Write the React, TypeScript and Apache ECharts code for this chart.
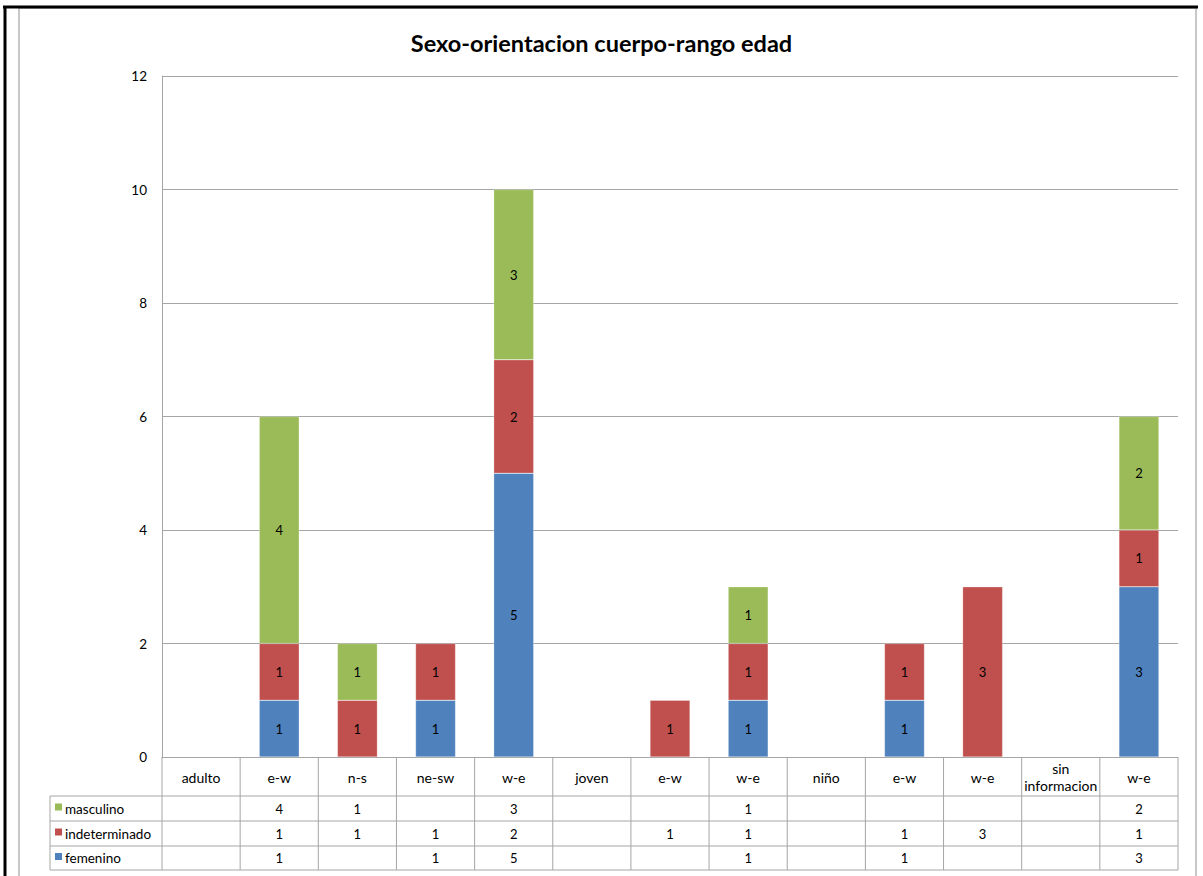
import React, { useEffect, useRef } from "react";
import * as echarts from "echarts";

const title = "Sexo-orientacion cuerpo-rango edad";
const categories = [
  "adulto", "e-w", "n-s", "ne-sw", "w-e", "joven", "e-w", "w-e", "niño", "e-w", "w-e", "sin\ninformacion", "w-e",
];
const masculino = [null, 4, 1, null, 3, null, null, 1, null, null, null, null, 2];
const indeterminado = [null, 1, 1, 1, 2, null, 1, 1, null, 1, 3, null, 1];
const femenino = [null, 1, null, 1, 5, null, null, 1, null, 1, null, null, 3];
const yTicks = { min: 0, max: 12, interval: 2 };

const COLORS = { femenino: "#4F81BD", indeterminado: "#C0504D", masculino: "#9BBB59" };
const FONT = "Lato, 'Open Sans', sans-serif";

export default function App() {
  const ref = useRef<HTMLDivElement>(null);
  useEffect(() => {
    if (!ref.current) return;
    const chart = echarts.init(ref.current, null, { renderer: "svg" });

    const gl = 162, gt = 76, gw = 1016, gh = 681;
    const gb = gt + gh;
    const n = categories.length;
    const colW = gw / n;
    const rowTops = [796, 821, 846, 870];
    const lineColor = "#a6a6a6";

    const rows = [
      { name: "masculino", data: masculino, color: COLORS.masculino },
      { name: "indeterminado", data: indeterminado, color: COLORS.indeterminado },
      { name: "femenino", data: femenino, color: COLORS.femenino },
    ];

    const graphics: any[] = [];
    graphics.push({ type: "rect", shape: { x: 19, y: 8, width: 1177, height: 880 }, style: { fill: "none", stroke: "#b5b5b5", lineWidth: 1.5 }, z: 1 });
    graphics.push({ type: "line", shape: { x1: 3, y1: 7, x2: 1198, y2: 7 }, style: { stroke: "#000", lineWidth: 3 }, z: 2 });
    graphics.push({ type: "line", shape: { x1: 5, y1: 6, x2: 5, y2: 880 }, style: { stroke: "#000", lineWidth: 3 }, z: 2 });

    rowTops.forEach((y) => {
      graphics.push({ type: "line", shape: { x1: 50, y1: y, x2: gl + gw, y2: y }, style: { stroke: lineColor, lineWidth: 1 }, z: 5 });
    });
    for (let i = 0; i <= n; i++) {
      const x = gl + i * colW;
      graphics.push({ type: "line", shape: { x1: x, y1: gb, x2: x, y2: rowTops[3] }, style: { stroke: lineColor, lineWidth: 1 }, z: 5 });
    }
    graphics.push({ type: "line", shape: { x1: 50, y1: rowTops[0], x2: 50, y2: rowTops[3] }, style: { stroke: lineColor, lineWidth: 1 }, z: 5 });

    rows.forEach((r, ri) => {
      const cy = (rowTops[ri] + rowTops[ri + 1]) / 2;
      graphics.push({ type: "rect", shape: { x: 55, y: cy - 5, width: 7, height: 7 }, style: { fill: r.color }, z: 6 });
      graphics.push({ type: "text", x: 65, y: cy, style: { text: r.name, font: `13.5px ${FONT}`, fill: "#000", textAlign: "left", textVerticalAlign: "middle" }, z: 6 });
      r.data.forEach((v, i) => {
        if (v == null) return;
        graphics.push({ type: "text", x: gl + (i + 0.5) * colW, y: cy, style: { text: String(v), font: `13px ${FONT}`, fill: "#000", textAlign: "center", textVerticalAlign: "middle" }, z: 6 });
      });
    });

    const barLabel = { show: true, position: "inside", color: "#000", fontSize: 13, fontFamily: FONT };
    const mkSeries = (name: string, data: any[], color: string) => ({
      name, type: "bar", stack: "total", data, barWidth: 40,
      itemStyle: { color, borderColor: "rgba(255,255,255,0.5)", borderWidth: 0.5 },
      label: barLabel,
    });

    chart.setOption({
      animation: false,
      backgroundColor: "#fff",
      title: { text: title, left: "center", top: 26, textStyle: { fontFamily: FONT, fontWeight: "bold", fontSize: 23.5, color: "#000" } },
      grid: { left: gl, top: gt, width: gw, height: gh, containLabel: false },
      xAxis: {
        type: "category",
        data: categories.map((_, i) => String(i)),
        axisLine: { show: true, lineStyle: { color: lineColor, width: 1 } },
        axisTick: { show: false },
        axisLabel: {
          interval: 0, margin: 20, verticalAlign: "middle", color: "#000", fontSize: 14, fontFamily: FONT, lineHeight: 17,
          formatter: (v: string) => categories[Number(v)],
        },
      },
      yAxis: {
        type: "value", min: yTicks.min, max: yTicks.max, interval: yTicks.interval,
        axisLine: { show: true, lineStyle: { color: lineColor, width: 1 } },
        axisTick: { show: false },
        axisLabel: { color: "#000", fontSize: 13.5, fontFamily: FONT, margin: 15 },
        splitLine: { show: true, lineStyle: { color: lineColor, width: 1 } },
      },
      legend: { show: false },
      series: [
        mkSeries("femenino", femenino, COLORS.femenino),
        mkSeries("indeterminado", indeterminado, COLORS.indeterminado),
        mkSeries("masculino", masculino, COLORS.masculino),
      ],
      graphic: graphics,
    });
    return () => chart.dispose();
  }, []);
  return <div ref={ref} style={{ position: "fixed", left: 0, top: 0, width: 1203, height: 876, background: "#fff" }} />;
}
